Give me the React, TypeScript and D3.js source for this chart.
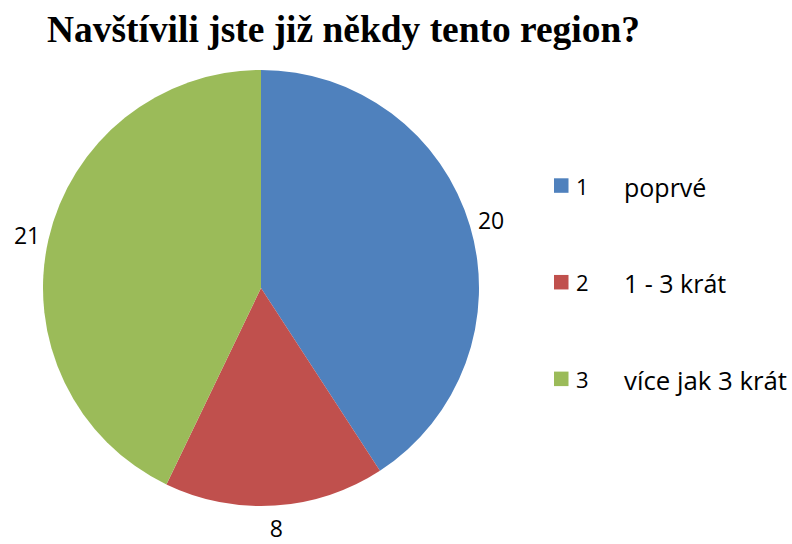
import React from "react";
import * as d3 from "d3";

const categories = ["1", "2", "3"];
const labels = ["poprvé", "1 - 3 krát", "více jak 3 krát"];
const values = [20, 8, 21];
const colors = ["#4F81BD", "#C0504D", "#9BBB59"];
const title = "Navštívili jste již někdy tento region?";

type D = { v: number; i: number };

export default function App() {
  const W = 792, H = 544;
  const cx = 261, cy = 288, r = 218;
  const data: D[] = values.map((v, i) => ({ v, i }));
  const pie = d3.pie<D>().value((d) => d.v).sort(null);
  const arcs = pie(data);
  const arc = d3.arc<d3.PieArcDatum<D>>().innerRadius(0).outerRadius(r);
  const labelArc = d3.arc<d3.PieArcDatum<D>>().innerRadius(r + 22).outerRadius(r + 22);
  const legendY = d3.scalePoint<string>().domain(categories).range([185.5, 378.8]);
  const font = "'Open Sans', 'Liberation Sans', sans-serif";
  return (
    <svg width={W} height={H} style={{ position: "absolute", left: 0, top: 0 }}>
      <rect width={W} height={H} fill="#fff" />
      <text x={47} y={42} fontFamily="'Liberation Serif', 'Times New Roman', serif" fontWeight="bold" fontSize={38} textLength={593} lengthAdjust="spacingAndGlyphs">{title}</text>
      <g transform={`translate(${cx},${cy})`}>
        {arcs.map((a) => (
          <path key={a.data.i} d={arc(a) || ""} fill={colors[a.data.i]} />
        ))}
        {arcs.map((a) => {
          const [x, y] = labelArc.centroid(a);
          return (
            <text key={"l" + a.data.i} x={x} y={y} textAnchor="middle" dominantBaseline="central" fontFamily={font} fontSize={23} fill="#000">{a.data.v}</text>
          );
        })}
      </g>
      {categories.map((c, i) => {
        const y = legendY(c)!;
        return (
          <g key={c}>
            <rect x={554} y={y - 7.2} width={14.5} height={14.5} fill={colors[i]} />
            <text x={576} y={y + 9} fontFamily={font} fontSize={22}>{c}</text>
            <text x={624} y={y + 11} fontFamily={font} fontSize={25} textLength={i === 2 ? 163 : undefined} lengthAdjust="spacingAndGlyphs">{labels[i]}</text>
          </g>
        );
      })}
    </svg>
  );
}
